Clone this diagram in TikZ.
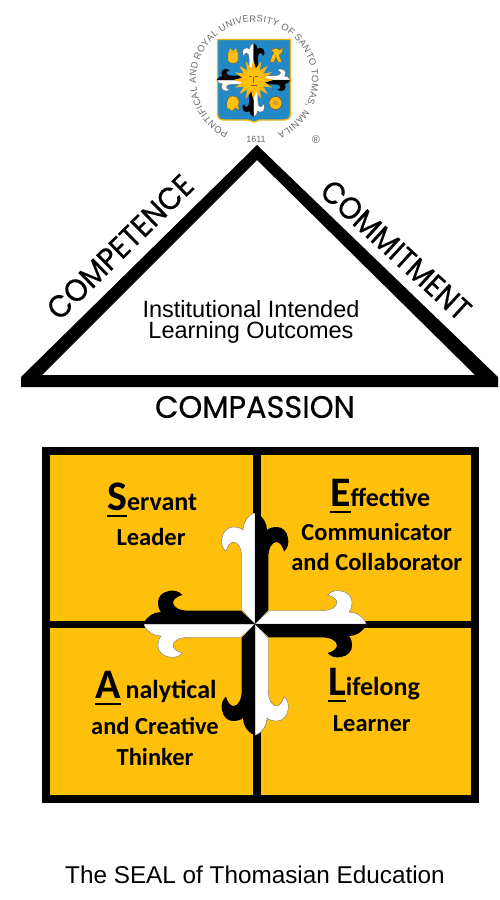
\documentclass[tikz,border=0pt]{standalone}
\usepackage{fontspec}
\setmainfont{Liberation Sans}
\newfontfamily\geofont[FakeBold=0.5]{Poppins}
\newfontfamily\calfont{Carlito}
\usetikzlibrary{decorations.text}
\definecolor{sealgold}{HTML}{FFC00B}
\definecolor{shieldblue}{HTML}{2389C6}
\definecolor{sealgray}{HTML}{6A6A6A}
\newsavebox{\capbox}
\newcommand{\bigcapital}[1]{\sbox{\capbox}{\fontsize{42}{42}\selectfont #1}\rlap{\rule[-6.5pt]{\wd\capbox}{2pt}}\usebox{\capbox}}
\tikzset{
  geolabel/.style={font=\geofont\fontsize{31}{31}\selectfont,inner sep=0pt},
  ilotext/.style={font=\fontsize{23.5}{21}\selectfont,align=center,inner sep=0pt},
  seal/.style={font=\calfont\bfseries\fontsize{24.5}{25}\selectfont,inner sep=0pt,anchor=base},
  sealhead/.style={seal,anchor=base west,font=\calfont\bfseries\fontsize{26}{26}\selectfont},
  pics/flory/.style={code={
    \foreach \r in {0,90,180,270}{
      \begin{scope}[rotate=\r]
        \fill[white,draw=black!60,line width=.35pt]
          (0,0) -- (-13.3,-14) -- (-13.3,-66)
          .. controls (-13.3,-76) and (-17,-82) .. (-21.5,-82)
          .. controls (-25,-82) and (-28,-77) .. (-29,-72.5)
          .. controls (-33,-76) and (-34,-81) .. (-33,-86)
          .. controls (-32,-93) and (-27,-97) .. (-22,-97)
          .. controls (-18,-97) and (-14,-96) .. (-12,-94)
          .. controls (-12,-101) and (-8,-108) .. (-1,-111) -- (0,-111) -- cycle;
        \fill[black]
          (0,0) -- (13.3,-14) -- (13.3,-66)
          .. controls (13.3,-76) and (17,-82) .. (21.5,-82)
          .. controls (25,-82) and (28,-77) .. (29,-72.5)
          .. controls (33,-76) and (34,-81) .. (33,-86)
          .. controls (32,-93) and (27,-97) .. (22,-97)
          .. controls (18,-97) and (14,-96) .. (12,-94)
          .. controls (12,-101) and (8,-108) .. (1,-111) -- (0,-111) -- cycle;
      \end{scope}}
  }}
}
\begin{document}
\begin{tikzpicture}[x=1pt,y=-1pt]
\useasboundingbox (0,0) rectangle (500,900);
\fill[white] (0,0) rectangle (500,900);
% --- seal text ring
\begin{scope}[shift={(254,80)},y=1pt]
  \path[decorate,decoration={text along path,text align={fit to path},
     text={|\fontsize{9.4}{10}\selectfont\color{sealgray}|PONTIFICAL AND ROYAL UNIVERSITY OF SANTO TOMAS, MANILA}}]
     (244:58) arc[start angle=244,end angle=-66,radius=58];
\end{scope}
% --- shield
\fill[shieldblue,draw=sealgold!80!brown,line width=1.4pt]
  (217.5,39.5) -- (290.5,39.5) -- (290.5,114)
  .. controls (290.5,119) and (287,120) .. (283,120)
  -- (260,120) -- (254,122) -- (248,120) -- (225,120)
  .. controls (221,120) and (217.5,119) .. (217.5,114) -- cycle;
\pic[scale=.33,transform shape] at (253.5,80) {flory};
\foreach \a in {0,22.5,...,337.5}{
  \fill[sealgold!85!orange,rotate around={\a:(253.5,80)}]
    (250.5,71) -- (253.5,60) -- (256.5,71) -- cycle;
}
\fill[sealgold] (253.5,80) circle[radius=11];
\draw[brown!70!black,line width=.5pt] (249,76.5) -- (252,76.5) (255,76.5) -- (258,76.5)
  (253.5,77) -- (253.5,82.5) (250.5,85) -- (256.5,85);
\fill[sealgold,draw=brown!60!black,line width=.4pt]
  (228,52) -- (238,52) -- (238,61) .. controls (238,64) and (228,64) .. (228,61) -- cycle;
\fill[sealgold!80!brown] (230,48) -- (233,51) -- (236,48) -- (237,52) -- (229,52) -- cycle;
\fill[sealgold,draw=brown!60!black,line width=.3pt]
  (270,62) .. controls (272,56) and (272,54) .. (274,53)
  -- (271,50) -- (276,48) -- (280,50) -- (283,47) -- (282,53) -- (279,55) -- (282,62) -- (278,62) -- (276,57) -- (274,62) -- cycle;
\fill[sealgold,draw=brown!60!black,line width=.3pt]
  (227,108) .. controls (226,100) and (228,96) .. (233,96)
  .. controls (239,96) and (240,102) .. (238,106)
  -- (240,110) -- (235,108) -- (232,111) -- cycle;
\fill[sealgold!90!orange,draw=brown!60!black,line width=.5pt] (275.5,103) circle[radius=6.5];
\fill[brown!60!sealgold] (275.5,103) circle[radius=2.5];
% seal date and mark
\node[font=\fontsize{9}{9}\selectfont,text=sealgray,inner sep=0pt] (year) at (256,139) {1611};
\node[font=\fontsize{11}{11}\selectfont,text=sealgray,inner sep=0pt] (reg) at (316,140) {®};
% --- triangle
\fill[black,even odd rule]
  (257,145) -- (498,377) -- (498,387) -- (21,387) -- (21,377) -- cycle
  (257,160) -- (42,375) -- (475,375) -- cycle;
\node[geolabel,rotate=44.5,xscale=.94] (comp) at (120,247) {COMPETENCE};
\node[geolabel,rotate=-42.5,xscale=.92] (comm) at (396,250) {COMMITMENT};
\node[geolabel,xscale=.98] (pass) at (255,407) {COMPASSION};
\node[ilotext] (ilo) at (251,322) {Institutional Intended\\Learning Outcomes};
% --- grid
\fill[sealgold] (42,447) rectangle (478,803);
\draw[black,line width=8pt] (46,451) rectangle (475,799);
\draw[black,line width=8pt] (257,451) -- (257,799);
\draw[black,line width=7.5pt] (46,624.5) -- (475,624.5);
\pic at (255,624) {flory};
% --- labels
\node[sealhead] (s1) at (107,510) {\bigcapital{S}ervant};
\node[seal] (s2) at (151,545) {Leader};
\node[sealhead] (e1) at (330,506) {\bigcapital{E}ffective};
\node[seal] (e2) at (376.7,540.7) {Communicator};
\node[seal] (e3) at (376.7,570) {and Collaborator};
\node[sealhead] (a1) at (95,698) {\bigcapital{A}\kern5pt nalytical};
\node[seal] (a2) at (155,734) {and Creative};
\node[seal] (a3) at (155,765.7) {Thinker};
\node[sealhead] (l1) at (328,695) {\bigcapital{L}ifelong};
\node[seal] (l2) at (371.7,731.7) {Learner};
\node[font=\fontsize{24.3}{24}\selectfont,inner sep=0pt] (title) at (255,875) {The SEAL of Thomasian Education};
\end{tikzpicture}
\end{document}
